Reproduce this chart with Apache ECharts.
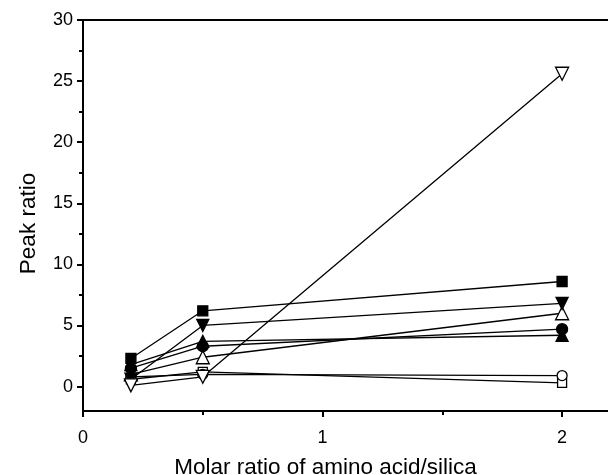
<!DOCTYPE html>
<html>
<head>
<meta charset="utf-8">
<script src="https://cdn.jsdelivr.net/npm/echarts@6/dist/echarts.min.js"></script>
<style>
  html, body { margin: 0; padding: 0; background: #fff; }
  #chart { width: 608px; height: 475px; }
</style>
</head>
<body>
<div id="chart"></div>
<script>
// molar ratio (x)
const molarRatio = [0.2, 0.5, 2]

// peak ratio per marker type
const filledSquare = [2.3, 6.2, 8.6]
const filledDown = [0.6, 5.0, 6.8]
const filledCircle = [1.5, 3.3, 4.7]
const filledUp = [1.8, 3.7, 4.2]
const openUp = [1.0, 2.4, 6.0]
const openCircle = [0.8, 1.0, 0.9]
const openSquare = [0.6, 1.2, 0.3]
const openDown = [0.1, 0.8, 25.6]

const yMajor = [0, 5, 10, 15, 20, 25, 30]
const yMinor = [2.5, 7.5, 12.5, 17.5, 22.5, 27.5]
const xMajor = [0, 1, 2]
const xMinor = [0.5, 1.5]

const FONT = 'Liberation Sans'

function pts (ys) {
  return molarRatio.map((x, i) => [x, ys[i]])
}

function line (name, ys, symbol, filled, size, rotate) {
  return {
    name: name,
    type: 'line',
    data: pts(ys),
    symbol: symbol,
    symbolSize: size,
    symbolRotate: rotate || 0,
    showAllSymbol: true,
    lineStyle: { color: '#000', width: 1.3 },
    itemStyle: {
      color: filled ? '#000' : '#fff',
      borderColor: '#000',
      borderWidth: 1.3
    },
    emphasis: { disabled: true },
    z: 3
  }
}

const chart = echarts.init(document.getElementById('chart'))
chart.setOption({
  backgroundColor: '#fff',
  animation: false,
  grid: { left: 83, top: 20, width: 527, height: 391, outerBoundsMode: 'none', containLabel: false },
  xAxis: [{
    type: 'value',
    min: 0,
    max: 2.2,
    position: 'bottom',
    name: 'Molar ratio of amino acid/silica',
    nameLocation: 'middle',
    nameGap: 45,
    nameTextStyle: { fontFamily: FONT, fontSize: 22.5, color: '#000', padding: [0, 42, 0, 0] },
    axisLine: { show: true, onZero: false, lineStyle: { color: '#000', width: 2 } },
    axisTick: { show: true, length: 6, lineStyle: { color: '#000', width: 2 }, customValues: xMajor },
    axisLabel: { fontFamily: FONT, fontSize: 18, color: '#000', margin: 18, customValues: xMajor },
    splitLine: { show: false }
  }, {
    type: 'value',
    min: 0,
    max: 2.2,
    position: 'bottom',
    axisLine: { show: false, onZero: false },
    axisTick: { show: true, length: 4, lineStyle: { color: '#000', width: 2 }, customValues: xMinor },
    axisLabel: { show: false },
    splitLine: { show: false }
  }, {
    type: 'value',
    min: 0,
    max: 2.2,
    position: 'top',
    axisLine: { show: true, onZero: false, lineStyle: { color: '#000', width: 2 } },
    axisTick: { show: false },
    axisLabel: { show: false },
    splitLine: { show: false }
  }],
  yAxis: [{
    type: 'value',
    min: -2,
    max: 30,
    name: 'Peak ratio',
    nameLocation: 'middle',
    nameGap: 43,
    nameTextStyle: { fontFamily: FONT, fontSize: 22.5, color: '#000', padding: [0, 16, 0, 0] },
    axisLine: { show: true, onZero: false, lineStyle: { color: '#000', width: 2 } },
    axisTick: { show: true, length: 6, lineStyle: { color: '#000', width: 2 }, customValues: yMajor },
    axisLabel: { fontFamily: FONT, fontSize: 18, color: '#000', margin: 10, customValues: yMajor },
    splitLine: { show: false }
  }, {
    type: 'value',
    min: -2,
    max: 30,
    position: 'left',
    axisLine: { show: false, onZero: false },
    axisTick: { show: true, length: 4, lineStyle: { color: '#000', width: 2 }, customValues: yMinor },
    axisLabel: { show: false },
    splitLine: { show: false }
  }],
  series: [
    line('openSquare', openSquare, 'rect', false, 9),
    line('openCircle', openCircle, 'circle', false, 10),
    line('openUp', openUp, 'triangle', false, 13),
    line('filledCircle', filledCircle, 'circle', true, 11),
    line('filledUp', filledUp, 'triangle', true, 12),
    line('filledDown', filledDown, 'triangle', true, 12, 180),
    line('filledSquare', filledSquare, 'rect', true, 10),
    line('openDown', openDown, 'triangle', false, 13, 180)
  ]
})
</script>
</body>
</html>
